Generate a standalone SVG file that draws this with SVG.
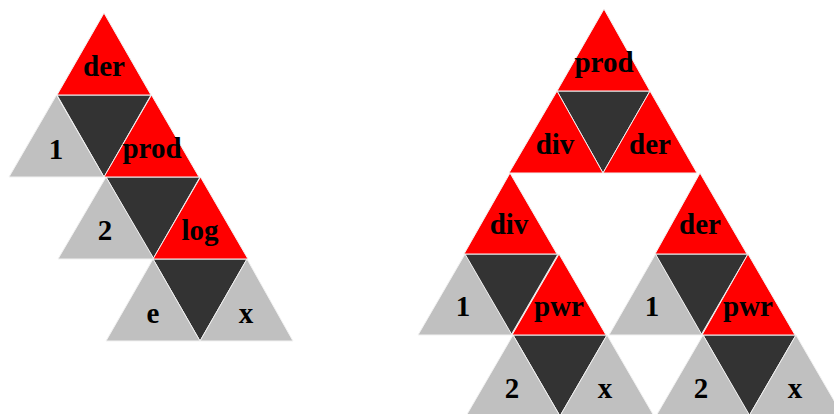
<svg xmlns="http://www.w3.org/2000/svg" width="834" height="414" viewBox="0 0 834 414">
<style>
.op{fill:#ff0000;stroke:#f2f2f2;stroke-width:1}
.lf{fill:#c0c0c0;stroke:#f2f2f2;stroke-width:1}
.dk{fill:#333333;stroke:#e6e6e6;stroke-width:1}
text{font-family:"Liberation Serif","Times New Roman",serif;font-weight:bold;font-size:29px;fill:#000;text-anchor:middle}
</style>
<rect width="834" height="414" fill="#ffffff"/>
<g id="connectors">
<polygon class="dk" points="57,95 151,95 104,177"/>
<polygon class="dk" points="106,177 200,177 153,259"/>
<polygon class="dk" points="153,259 247,259 200,341"/>
<polygon class="dk" points="557,91 650,91 603,173"/>
<polygon class="dk" points="464,254 558,254 511,335"/>
<polygon class="dk" points="513,335 607,335 560,416"/>
<polygon class="dk" points="655,254 748,254 701,335"/>
<polygon class="dk" points="703,335 796,335 749,416"/>
</g>
<g id="L_der"><polygon class="op" points="104,13 57,95 151,95"/><text x="104" y="76">der</text></g>
<g id="L_1"><polygon class="lf" points="56.5,95 9,177 104,177"/><text x="56" y="159">1</text></g>
<g id="L_prod"><polygon class="op" points="151.5,95 104,177 199,177"/><text x="152" y="158">prod</text></g>
<g id="L_2"><polygon class="lf" points="106,177 58,259 154,259"/><text x="105" y="240">2</text></g>
<g id="L_log"><polygon class="op" points="200.5,177 153,259 248,259"/><text x="200" y="240">log</text></g>
<g id="L_e"><polygon class="lf" points="153,259 106,341 200,341"/><text x="153" y="323">e</text></g>
<g id="L_x"><polygon class="lf" points="247,259 200,341 293,341"/><text x="246" y="323">x</text></g>

<g id="R_prod"><polygon class="op" points="604,9 557,91 650,91"/><text x="604" y="72">prod</text></g>
<g id="R_div"><polygon class="op" points="557,91 509,173 603,173"/><text x="555" y="154">div</text></g>
<g id="R_der"><polygon class="op" points="650,91 603,173 697,173"/><text x="650" y="154">der</text></g>
<g id="R_div2"><polygon class="op" points="510,173 464,254 557,254"/><text x="509" y="234">div</text></g>
<g id="R_1a"><polygon class="lf" points="465,254 418,335 512,335"/><text x="463" y="316">1</text></g>
<g id="R_pwr1"><polygon class="op" points="559,254 512,335 606,335"/><text x="559" y="316">pwr</text></g>
<g id="R_2a"><polygon class="lf" points="513,335 466,416 560,416"/><text x="512" y="398">2</text></g>
<g id="R_xa"><polygon class="lf" points="607,335 560,416 654,416"/><text x="605" y="398">x</text></g>
<g id="R_der2"><polygon class="op" points="700,173 655,254 747,254"/><text x="700" y="234">der</text></g>
<g id="R_1b"><polygon class="lf" points="655.5,254 609,335 702,335"/><text x="652" y="316">1</text></g>
<g id="R_pwr2"><polygon class="op" points="748,254 702,335 795,335"/><text x="748" y="316">pwr</text></g>
<g id="R_2b"><polygon class="lf" points="703,335 656,416 750,416"/><text x="701" y="398">2</text></g>
<g id="R_xb"><polygon class="lf" points="796,335 749,416 843,416"/><text x="795" y="398">x</text></g>
</svg>
